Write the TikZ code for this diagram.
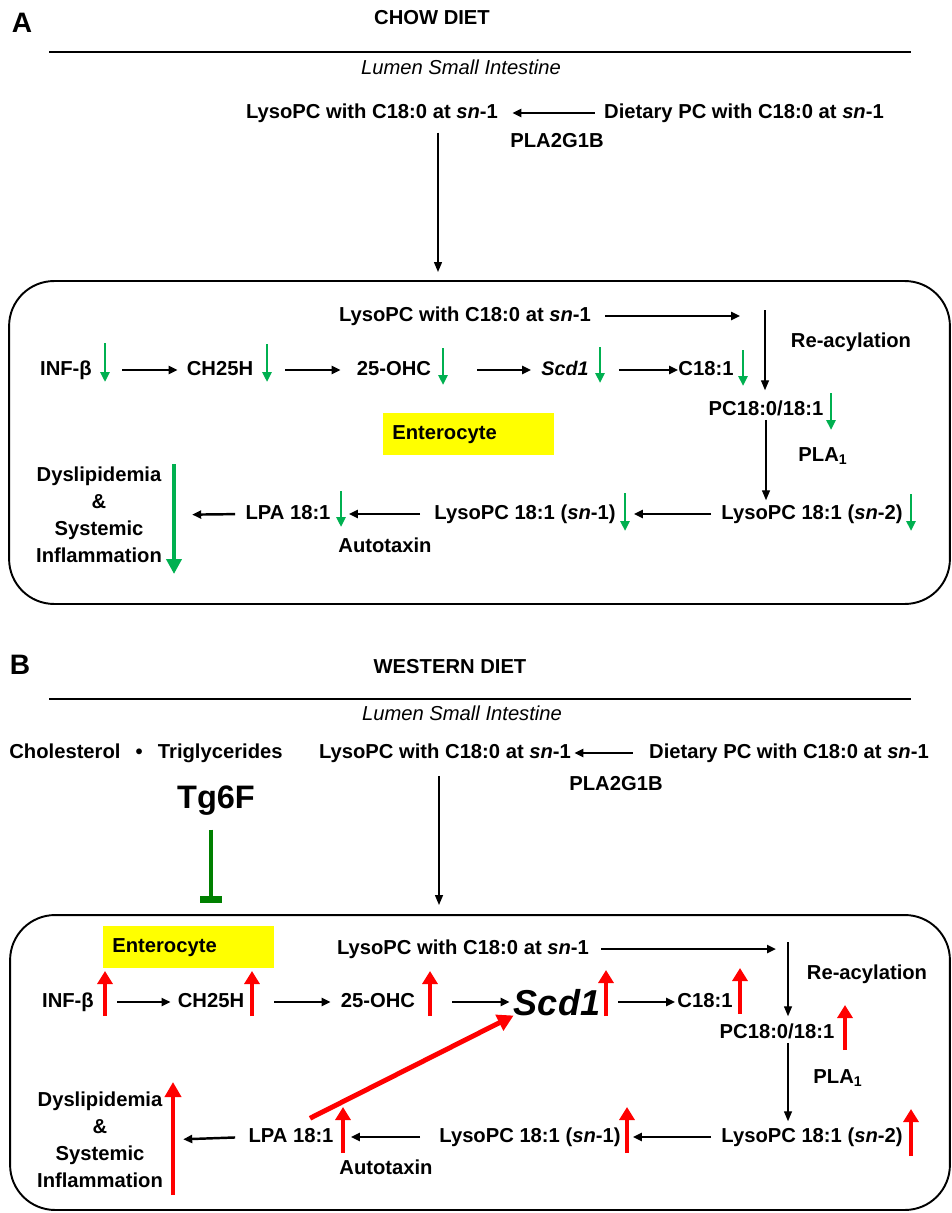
\documentclass[tikz,border=0pt]{standalone}
\usepackage{fontspec}
\setmainfont{Liberation Sans}
\usetikzlibrary{arrows.meta}
\usetikzlibrary{positioning}

\definecolor{dngreen}{HTML}{00B050}
\definecolor{upred}{HTML}{FF0000}
\definecolor{tggreen}{HTML}{008000}
\definecolor{entyellow}{HTML}{FFFF00}

\tikzset{
	txt/.style={font=\bfseries\fontsize{11.5}{14}\selectfont, inner sep=0pt, text height=8.3pt, text depth=2.4pt},
	lumen/.style={font=\itshape\fontsize{11.5}{14}\selectfont, inner sep=0pt},
	panel/.style={font=\bfseries\fontsize{16}{18}\selectfont, inner sep=0pt},
	outcome/.style={font=\bfseries\fontsize{11.5}{15.3}\selectfont, inner sep=0pt, align=center},
	cell/.style={draw, line width=1.1pt, rounded corners=0.9cm},
	ent/.style={fill=entyellow, font=\bfseries\fontsize{11.5}{14}\selectfont, text width=3.06cm, inner xsep=0.18cm, minimum height=0.84cm, align=left},
	sepline/.style={line width=1.6pt},
	flow/.style={-{Triangle[length=0.18cm,width=0.16cm]}, line width=1.4pt},
	feed/.style={-{Triangle[length=0.2cm,width=0.16cm]}, line width=0.8pt},
	dn/.style={-{Triangle[length=0.2cm,width=0.18cm]}, line width=1.4pt, dngreen},
	dnbig/.style={-{Triangle[length=0.3cm,width=0.3cm]}, line width=2.2pt, dngreen},
	up/.style={-{Triangle[length=0.26cm,width=0.3cm]}, line width=2pt, upred},
	upbig/.style={-{Triangle[length=0.3cm,width=0.32cm]}, line width=2.4pt, upred},
	diag/.style={-{Triangle[length=0.32cm,width=0.34cm]}, line width=2.8pt, upred},
	inhib/.style={-{Rectangle[length=0.14cm,width=0.44cm]}, line width=2.8pt, tggreen}
}

\begin{document}
\begin{tikzpicture}[x=0.02cm,y=-0.02cm]
	\useasboundingbox (0,0) rectangle (952,1213);
	
	% A: chow diet
	\node[panel] (labA) at (22,23) {A};
	\node[txt] (titleA) at (432,19) {CHOW DIET};
	\draw[sepline] (49,52) -- (911,52);
	\node[lumen] (lumenA) at (461,67) {Lumen Small Intestine};
	\node[txt] (lysoA) at (372,113) {LysoPC with C18:0 at \textit{sn}-1};
	\node[txt] (dietA) at (744,113) {Dietary PC with C18:0 at \textit{sn}-1};
	\node[txt] (pla2A) at (557,142) {PLA2G1B};
	\draw[flow, shorten <=0.18cm, shorten >=0.28cm] (dietA.west) -- (lysoA.east);
	\node[cell, minimum width=18.82cm, minimum height=6.46cm] (boxA) at (479.5,442.5) {};
	\coordinate (inA) at (438,272);
	\draw[feed, shorten <=0.2cm] (inA |- lysoA.south) -- (inA);
	
	\node[txt] (lyso2A) at (465,316) {LysoPC with C18:0 at \textit{sn}-1};
	\coordinate (rA) at (765,310);
	\node[txt] (pcA) at (766,410) {PC18:0/18:1};
	\node[txt] (reacA) at (851,342) {Re-acylation};
	\draw[flow, shorten <=0.28cm, shorten >=0.5cm] (lyso2A.east) -- (lyso2A.east -| rA);
	\draw[feed, shorten >=0.2cm] (rA) -- (rA |- pcA.north);
	
	\node[txt] (infA) at (66,370) {INF-β};
	\node[txt] (ch25A) at (220,370) {CH25H};
	\node[txt] (ohcA) at (394,370) {25-OHC};
	\node[txt, font=\bfseries\itshape\fontsize{11.2}{13}\selectfont] (scdA) at (565,370) {Scd1};
	\node[txt] (c181A) at (706,370) {C18:1};
	\draw[flow, shorten <=0.6cm, shorten >=0.18cm] (infA.east) -- (ch25A.west);
	\draw[flow, shorten <=0.64cm, shorten >=0.32cm] (ch25A.east) -- (ohcA.west);
	\draw[flow, shorten <=0.92cm, shorten >=0.2cm] (ohcA.east) -- (scdA.west);
	\draw[flow, shorten <=0.6cm] (scdA.east) -- (c181A.west);
	
	\node[ent, anchor=north west] (entA) at (383,413) {Enterocyte};
	\node[txt] (plaA) at (823,456) {PLA\textsubscript{1}};
	\node[txt] (sn2A) at (812,514) {LysoPC 18:1 (\textit{sn}-2)};
	\node[txt] (sn1A) at (525,514) {LysoPC 18:1 (\textit{sn}-1)};
	\node[txt] (lpaA) at (288,514) {LPA 18:1};
	\node[txt] (autoA) at (385,547) {Autotaxin};
	\node[outcome] (dysA) at (99,515) {Dyslipidemia\\\&\\Systemic\\Inflammation};
	\draw[feed, shorten >=0.08cm] (pcA.south) -- (pcA.south |- sn2A.north);
	\draw[flow, shorten <=0.2cm, shorten >=0.36cm] (sn2A.west) -- (sn1A.east);
	\draw[flow, shorten <=0.28cm, shorten >=0.36cm] (sn1A.west) -- (lpaA.east);
	\draw[flow, shorten <=0.2cm, shorten >=0.6cm] (lpaA.west) -- (dysA.east);
	
	% green: lowered
	\draw[dn] (105,343) -- (105,382);
	\draw[dn] (267,344) -- (267,382);
	\draw[dn] (443,348) -- (443,385);
	\draw[dn] (600,347) -- (600,383);
	\draw[dn] (743,350) -- (743,386);
	\draw[dn] (831,393) -- (831,430);
	\draw[dn] (911,494) -- (911,531);
	\draw[dn] (625,493) -- (625,531);
	\draw[dn] (341,491) -- (341,527);
	\draw[dnbig] (174,464) -- (174,574);
	
	% B: western diet
	\node[panel] (labB) at (20,665) {B};
	\node[txt] (titleB) at (450,668) {WESTERN DIET};
	\draw[sepline] (49,699) -- (911,699);
	\node[lumen] (lumenB) at (462,713) {Lumen Small Intestine};
	\node[txt] (cholB) at (146,753) {Cholesterol\hspace{0.75em}\textbullet\hspace{0.75em}Triglycerides};
	\node[txt] (lysoB) at (445,753) {LysoPC with C18:0 at \textit{sn}-1};
	\node[txt] (dietB) at (789,753) {Dietary PC with C18:0 at \textit{sn}-1};
	\node[txt] (pla2B) at (616,785) {PLA2G1B};
	\draw[flow, shorten <=0.32cm, shorten >=0.06cm] (dietB.west) -- (lysoB.east);
	\node[txt, font=\bfseries\fontsize{18.5}{20}\selectfont, text height=13.5pt, text depth=3.8pt] (tg6f) at (216,800) {Tg6F};
	\node[cell, minimum width=18.8cm, minimum height=5.9cm] (boxB) at (480,1062.5) {};
	\coordinate (inB) at (439,905);
	\coordinate (tB) at (211,903);
	\draw[feed, shorten <=0.26cm] (inB |- lysoB.south) -- (inB);
	\draw[inhib, shorten <=0.28cm] (tB |- tg6f.south) -- (tB);
	
	\node[ent, anchor=north west] (entB) at (103,926) {Enterocyte};
	\node[txt] (lyso2B) at (463,949) {LysoPC with C18:0 at \textit{sn}-1};
	\coordinate (rB) at (788,942);
	\node[txt] (pcB) at (777,1033) {PC18:0/18:1};
	\node[txt] (reacB) at (867,974) {Re-acylation};
	\draw[flow, shorten <=0.24cm, shorten >=0.24cm] (lyso2B.east) -- (lyso2B.east -| rB);
	\draw[feed, shorten >=0.14cm] (rB) -- (rB |- pcB.north);
	
	\node[txt] (infB) at (68,1002) {INF-β};
	\node[txt] (ch25B) at (211,1002) {CH25H};
	\node[txt] (ohcB) at (378,1002) {25-OHC};
	\node[txt, font=\bfseries\itshape\fontsize{20.5}{22}\selectfont, text height=15pt, text depth=0pt] (scdB) at (557,1002) {Scd1};
	\node[txt] (c181B) at (705,1002) {C18:1};
	\draw[flow, shorten <=0.46cm, shorten >=0.14cm] (infB.east) -- (ch25B.west);
	\draw[flow, shorten <=0.6cm, shorten >=0.2cm] (ch25B.east) -- (ohcB.west);
	\draw[flow, shorten <=0.74cm, shorten >=0.08cm] (ohcB.east) -- (scdB.west);
	\draw[flow, shorten <=0.36cm, shorten >=0.04cm] (scdB.east) -- (c181B.west);
	
	\node[txt] (plaB) at (838,1078) {PLA\textsubscript{1}};
	\node[txt] (sn2B) at (812,1137) {LysoPC 18:1 (\textit{sn}-2)};
	\node[txt] (sn1B) at (530,1137) {LysoPC 18:1 (\textit{sn}-1)};
	\node[txt] (lpaB) at (291,1137) {LPA 18:1};
	\node[txt] (autoB) at (386,1169) {Autotaxin};
	\node[outcome] (dysB) at (100,1140) {Dyslipidemia\\\&\\Systemic\\Inflammation};
	\draw[feed, shorten >=0.12cm] (rB |- pcB.south) -- (rB |- sn2B.north);
	\draw[flow, shorten <=0.2cm, shorten >=0.24cm] (sn2B.west) -- (sn1B.east);
	\draw[flow, shorten <=0.38cm, shorten >=0.34cm] (sn1B.west) -- (lpaB.east);
	\draw[flow, shorten <=0.26cm, shorten >=0.4cm] (lpaB.west) -- (dysB.east);
	\draw[diag] ([shift={(19,-9)}]lpaB.north) -- (scdB.south west);
	
	% red: raised
	\draw[up] (105,1016) -- (105,971);
	\draw[up] (252,1016) -- (252,971);
	\draw[up] (430,1016) -- (430,971);
	\draw[up] (606,1016) -- (606,970);
	\draw[up] (740,1014) -- (740,968);
	\draw[up] (845,1050) -- (845,1005);
	\draw[up] (911,1156) -- (911,1109);
	\draw[up] (627,1153) -- (627,1107);
	\draw[up] (343,1153) -- (343,1107);
	\draw[upbig] (173,1195) -- (173,1082);
	
\end{tikzpicture}
\end{document}
